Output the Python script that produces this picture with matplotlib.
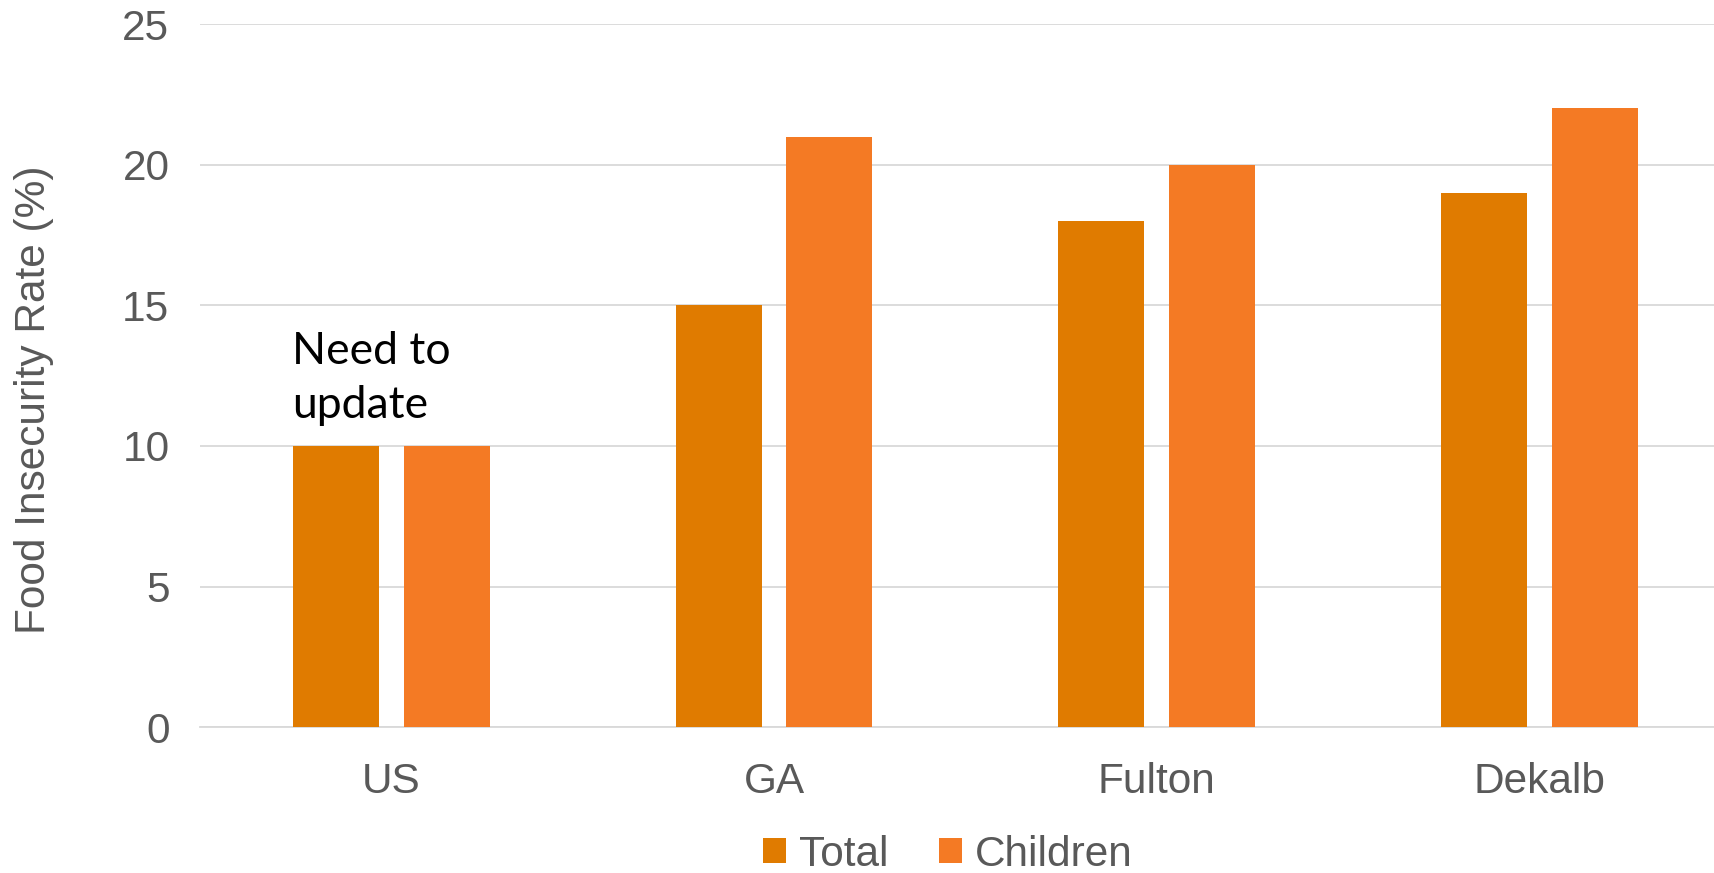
import numpy as np
from matplotlib import pyplot as plt

# data
regions = ['US', 'GA', 'Fulton', 'Dekalb']
total = [10, 15, 18, 19]
children = [10, 21, 20, 22]
yticks = [0, 5, 10, 15, 20, 25]

plt.rcParams['font.family'] = ['Liberation Sans', 'DejaVu Sans']
grey = '#595959'
fs = 30.5

fig = plt.figure(figsize=(17.14, 8.73), dpi=100)
ax = fig.add_axes([0.1167, 0.167, 0.893, 0.8055])

x = np.arange(len(regions))
w = 0.225
off = 0.1445
ax.bar(x - off, total, w, color='#E07B00', label='Total', zorder=3)
ax.bar(x + off, children, w, color='#F47A24', label='Children', zorder=3)

ax.set_xlim(-0.5, len(regions) - 0.5)
ax.set_ylim(0, 25)
ax.set_yticks(yticks)
ax.set_xticks(x)
ax.set_xticklabels(regions)
ax.tick_params(axis='both', length=0, labelsize=fs, colors=grey)
ax.tick_params(axis='x', pad=25)
ax.tick_params(axis='y', pad=22)
ax.grid(axis='y', color='#D9D9D9', linewidth=1.3, zorder=0)
for s in ['top', 'right', 'left']:
    ax.spines[s].set_visible(False)
ax.spines['bottom'].set_color('#D9D9D9')
ax.spines['bottom'].set_linewidth(1.3)

ax.set_ylabel('Food Insecurity Rate (%)', fontsize=fs, color=grey,
              labelpad=49, y=0.465)

# note above the US bars
ax.text(-0.26, 12.9, 'Need to', fontsize=32, family='Lato',
        color='black', ha='left', va='baseline')
ax.text(-0.26, 11.0, 'update', fontsize=32, family='Lato',
        color='black', ha='left', va='baseline')

fig.legend(loc='center', bbox_to_anchor=(0.553, 0.021), ncol=2, frameon=False,
           fontsize=fs, labelcolor=grey, handlelength=0.55, handleheight=0.55,
           handletextpad=0.3, columnspacing=1.2)

plt.savefig('out.png', dpi=100)
